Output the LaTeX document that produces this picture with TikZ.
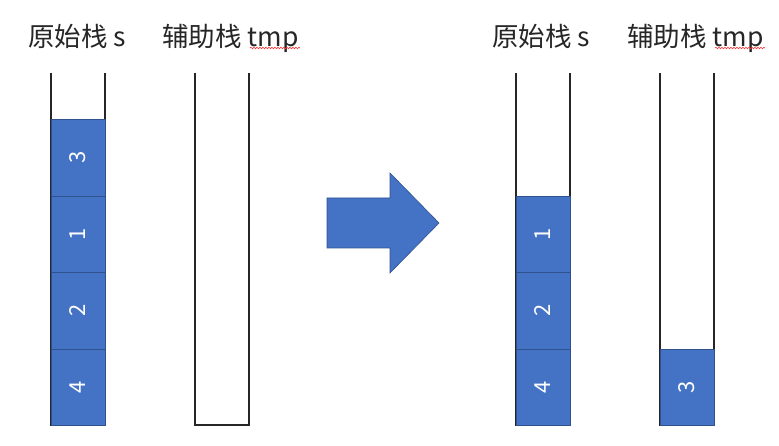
\documentclass[tikz,border=0pt]{standalone}
\usepackage{fontspec}
\setmainfont{Noto Sans CJK SC}
\usetikzlibrary{decorations.pathmorphing}
\definecolor{blk}{HTML}{4472C4}
\definecolor{blkline}{HTML}{2F528F}
\definecolor{wall}{HTML}{262626}
\tikzset{
  wallline/.style={draw=wall, line width=1.6pt},
  block/.style={fill=blk, draw=blkline, line width=0.8pt},
  digit/.style={text=white, font=\fontsize{22}{22}\selectfont, rotate=90, inner sep=0pt},
  title/.style={anchor=base west, inner sep=0pt, font=\fontsize{26.5}{26.5}\selectfont, text=black!85},
  spell/.style={draw=red!80, line width=0.6pt, decorate, decoration={snake, amplitude=0.8pt, segment length=3pt}},
  bigarrow/.style={fill=blk, draw=blkline, line width=0.6pt}
}
\begin{document}
\begin{tikzpicture}[x=1pt,y=-1pt]
\useasboundingbox (0,0) rectangle (779,446);
% titles
\node[title] (t1) at (28,47) {原始栈 s};
\node[title] (t2) at (162,47) {辅助栈 tmp};
\node[title] (t3) at (492,47) {原始栈 s};
\node[title] (t4) at (627,47) {辅助栈 tmp};
\coordinate (u1a) at (250,48); \coordinate (u1b) at (300,48);
\coordinate (u2a) at (715,48); \coordinate (u2b) at (765,48);
\draw[spell] (u1a) -- (u1b);
\draw[spell] (u2a) -- (u2b);
% left s stack
\draw[wallline] (51,73) -- (51,425) -- (105,425) -- (105,73);
\path[block] (51,119) rectangle (105,196) node[midway,digit] (a3) {3};
\path[block] (51,196) rectangle (105,272) node[midway,digit] (a1) {1};
\path[block] (51,272) rectangle (105,349) node[midway,digit] (a2) {2};
\path[block] (51,349) rectangle (105,425) node[midway,digit] (a4) {4};
% left tmp stack
\draw[wallline] (195,73) -- (195,425) -- (249,425) -- (249,73);
% arrow
\path[bigarrow] (327,198) -- (390,198) -- (390,173) -- (439,223) -- (390,273) -- (390,248) -- (327,248) -- cycle;
% right s stack
\draw[wallline] (516,73) -- (516,425) -- (570,425) -- (570,73);
\path[block] (516,196) rectangle (570,272) node[midway,digit] (b1) {1};
\path[block] (516,272) rectangle (570,349) node[midway,digit] (b2) {2};
\path[block] (516,349) rectangle (570,425) node[midway,digit] (b4) {4};
% right tmp stack
\draw[wallline] (660,73) -- (660,425) -- (714,425) -- (714,73);
\path[block] (660,349) rectangle (714,425) node[midway,digit] (c3) {3};
\end{tikzpicture}
\end{document}
